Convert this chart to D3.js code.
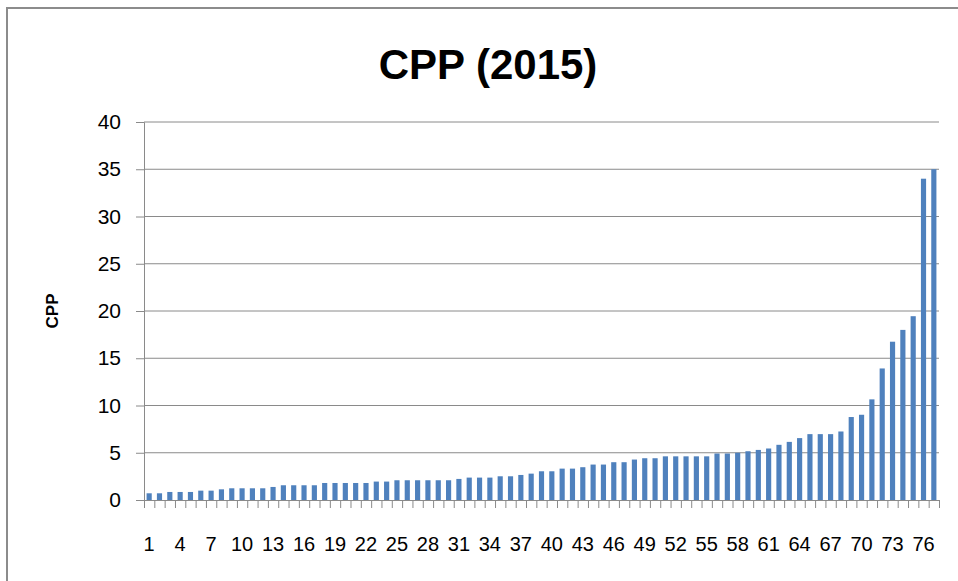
<!DOCTYPE html>
<html>
<head>
<meta charset="utf-8">
<script src="https://cdn.jsdelivr.net/npm/d3@7"></script>
<style>
  body { margin: 0; background: #fff; }
  svg { display: block; font-family: "Liberation Sans", Arial, sans-serif; }
</style>
</head>
<body>
<svg id="chart"></svg>
<script>
/* ---------- data ---------- */
const values = [
  0.71, 0.71, 0.85, 0.85, 0.85, 0.99, 0.99, 1.13, 1.24, 1.24,
  1.24, 1.24, 1.38, 1.56, 1.56, 1.56, 1.56, 1.8, 1.8, 1.8,
  1.8, 1.8, 1.95, 1.95, 2.09, 2.09, 2.09, 2.09, 2.09, 2.09,
  2.23, 2.37, 2.37, 2.37, 2.51, 2.51, 2.65, 2.79, 3.04, 3.04,
  3.32, 3.32, 3.47, 3.75, 3.75, 4.0, 4.0, 4.28, 4.42, 4.42,
  4.62, 4.62, 4.62, 4.62, 4.62, 4.92, 4.92, 5.0, 5.16, 5.3,
  5.45, 5.84, 6.15, 6.55, 6.97, 6.97, 6.97, 7.25, 8.78, 9.02,
  10.65, 13.92, 16.75, 18.0, 19.45, 34.0, 35.0
];
const categories = values.map((d, i) => i + 1);
const yTicks = [0, 5, 10, 15, 20, 25, 30, 35, 40];
const title = "CPP (2015)";
const yTitle = "CPP";

/* ---------- setup ---------- */
const width = 958, height = 581;
const plot = { left: 144, right: 939, top: 122, bottom: 500 };

const svg = d3.select("#chart").attr("width", width).attr("height", height);

// outer chart frame (continues past the picture edge)
svg.append("rect")
  .attr("x", 7).attr("y", 8).attr("width", 990).attr("height", 600)
  .attr("fill", "#fff").attr("stroke", "#8c8c8c").attr("stroke-width", 2);

const x = d3.scaleBand().domain(categories).range([plot.left, plot.right]).paddingInner(0.5).paddingOuter(0.25);
const y = d3.scaleLinear().domain([0, 40]).range([plot.bottom, plot.top]);

// gridlines
svg.append("g").selectAll("line")
  .data(yTicks.filter(d => d > 0)).enter().append("line")
    .attr("x1", plot.left).attr("x2", plot.right)
    .attr("y1", d => y(d)).attr("y2", d => y(d))
    .attr("stroke", "#8a8a8a").attr("stroke-width", 1);

// bars
svg.append("g").selectAll("rect")
  .data(values).enter().append("rect")
    .attr("x", (d, i) => x(categories[i]))
    .attr("width", x.bandwidth())
    .attr("y", d => y(d))
    .attr("height", d => y(0) - y(d))
    .attr("fill", "#4f81bd");

// y axis
const yAxis = svg.append("g")
  .attr("transform", `translate(${plot.left},0)`)
  .call(d3.axisLeft(y).tickValues(yTicks).tickSize(8).tickPadding(15));
yAxis.select(".domain").attr("stroke", "#8a8a8a");
yAxis.selectAll(".tick line").attr("stroke", "#8a8a8a");
yAxis.selectAll("text").attr("font-size", 21).attr("fill", "#000")
  .attr("font-family", "Liberation Sans, Arial, sans-serif");

// x axis: ticks at category boundaries, labels every third category
const step = x.step();
const bounds = d3.range(categories.length + 1).map(i => plot.left + i * step);
const xg = svg.append("g");
xg.append("line")
  .attr("x1", plot.left).attr("x2", plot.right)
  .attr("y1", plot.bottom + 0.5).attr("y2", plot.bottom + 0.5)
  .attr("stroke", "#8a8a8a");
xg.selectAll("line.tk").data(bounds).enter().append("line")
  .attr("class", "tk")
  .attr("x1", d => d + 0.5).attr("x2", d => d + 0.5)
  .attr("y1", plot.bottom).attr("y2", plot.bottom + 8)
  .attr("stroke", "#8a8a8a");
xg.selectAll("text").data(categories.filter((d, i) => i % 3 === 0)).enter().append("text")
  .attr("x", d => x(d) + x.bandwidth() / 2)
  .attr("y", 551)
  .attr("text-anchor", "middle")
  .attr("font-size", 20)
  .attr("fill", "#000")
  .text(d => d);

// titles
svg.append("text")
  .attr("x", 488).attr("y", 79)
  .attr("text-anchor", "middle")
  .attr("font-size", 42).attr("font-weight", "bold")
  .text(title);

svg.append("text")
  .attr("transform", "translate(58,311) rotate(-90)")
  .attr("text-anchor", "middle")
  .attr("font-size", 17).attr("font-weight", "bold")
  .text(yTitle);
</script>
</body>
</html>
